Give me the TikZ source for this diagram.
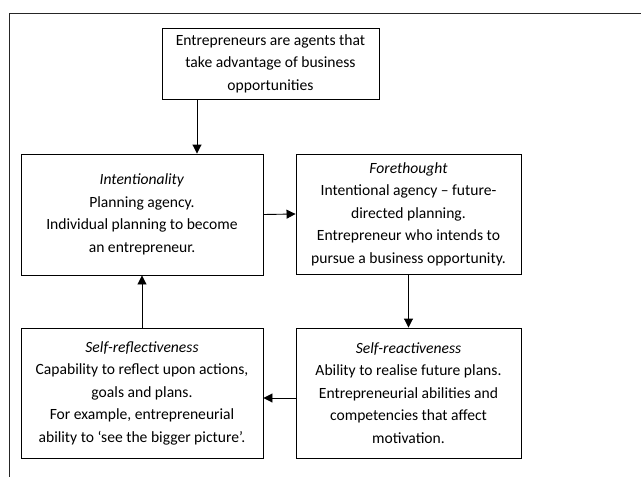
\documentclass[tikz,border=0pt]{standalone}
\usepackage{fontspec}
\setmainfont{Carlito}
\usetikzlibrary{arrows.meta}
\begin{document}
\begin{tikzpicture}[x=1pt,y=-1pt,
  box/.style={draw, line width=0.9pt, align=center, inner sep=0pt,
    font=\fontsize{15.6}{22.5}\selectfont, text=black},
  arr/.style={line width=0.9pt, -{Triangle[length=9pt,width=9pt]}}]
\useasboundingbox (0,0) rectangle (641,477);
\draw[line width=0.8pt, black!85] (9,477) -- (9,13) -- (641,13);
\node[box, minimum width=217pt, minimum height=71pt] (top) at (270.5,63.5)
  {Entrepreneurs are agents that\\take advantage of business\\opportunities};
\node[box, minimum width=242pt, minimum height=121pt] (intent) at (142,214.5)
  {\textit{Intentionality}\\Planning agency.\\Individual planning to become\\an entrepreneur.};
\node[box, minimum width=225pt, minimum height=120pt] (fore) at (408.5,214)
  {\textit{Forethought}\\Intentional agency – future-\\directed planning.\\Entrepreneur who intends to\\pursue a business opportunity.};
\node[box, minimum width=242pt, minimum height=130pt] (refl) at (142,393)
  {\textit{Self-reflectiveness}\\Capability to reflect upon actions,\\goals and plans.\\For example, entrepreneurial\\ability to ‘see the bigger picture’.};
\node[box, minimum width=225pt, minimum height=130pt] (react) at (408.5,393)
  {\textit{Self-reactiveness}\\Ability to realise future plans.\\Entrepreneurial abilities and\\competencies that affect\\motivation.};
\coordinate (a1) at (197,0);
\coordinate (a2) at (0,398);
\draw[arr] (top.south -| a1) -- (intent.north -| a1);
\draw[arr] (intent.east) -- (fore.west);
\draw[arr] (fore.south) -- (react.north);
\draw[arr] (react.west |- a2) -- (refl.east |- a2);
\draw[arr] (refl.north) -- (intent.south);
\end{tikzpicture}
\end{document}
